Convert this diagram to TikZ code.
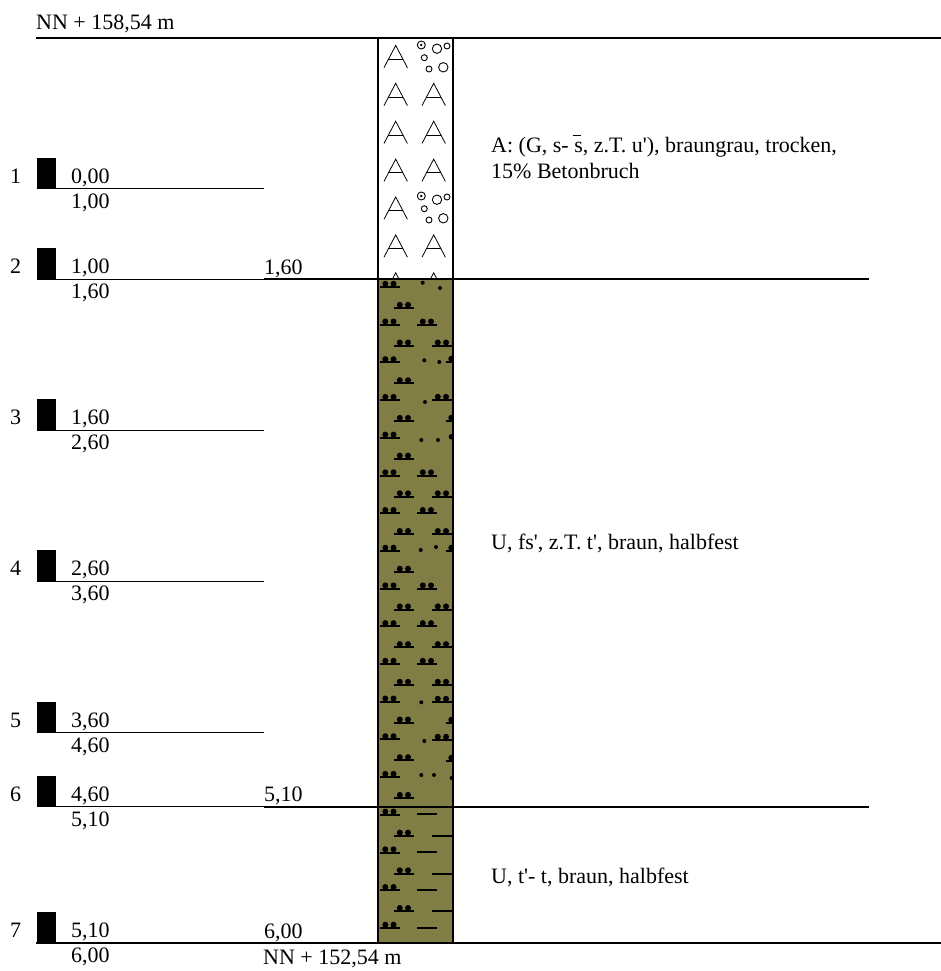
\documentclass[tikz,border=0pt]{standalone}
\usepackage{fontspec}
\newfontfamily\logfont{Liberation Serif}
\definecolor{loamfill}{RGB}{128,125,69}
\tikzset{
	logtext/.style={anchor=base west,inner sep=0pt,font=\logfont\fontsize{22}{26}\selectfont},
	layerline/.style={line width=2pt},
	sampleline/.style={line width=1pt},
	samplebar/.style={fill=black},
	soildot/.style={fill=black},
}
\newcommand{\siltmark}[2]{
	\fill[soildot] ({#1+5.8},{#2-3.2}) circle (3);
	\fill[soildot] ({#1+14},{#2-3.2}) circle (3);
	\draw[line width=2pt] (#1,{#2}) -- ({#1+20},{#2});
}
\newcommand{\fillmark}[2]{
	\draw[line width=.9pt] ({#1+3.3},#2) circle (4);
	\fill[soildot] ({#1+3.3},#2) circle (1.4);
	\draw[line width=.9pt] ({#1+19},{#2+3.7}) circle (4.7);
	\draw[line width=.9pt] ({#1+29},{#2+1}) circle (3);
	\draw[line width=.9pt] ({#1+6.3},{#2+12.7}) circle (3);
	\draw[line width=.9pt] ({#1+11},{#2+24}) circle (3);
	\draw[line width=.9pt] ({#1+25.3},{#2+22.3}) circle (4.7);
}
\newcommand{\amark}[2]{
	\draw[line width=.8pt] (#1,{#2}) -- ({#1+11.7},{#2-22.3}) -- ({#1+23.4},{#2});
	\draw[line width=.8pt] ({#1+4},{#2-8.6}) -- ({#1+19.4},{#2-8.6});
}
\begin{document}
\begin{tikzpicture}[x=1pt,y=-1pt]
\useasboundingbox (0,0) rectangle (941,971);
% layer fills
\fill[loamfill] (377.5,279) rectangle (452.5,943);
% fill material, top layer
\begin{scope}
\clip (377.5,38) rectangle (452.5,279);
\foreach \k in {0,...,6}
{
	\amark{384}{67.7+37.9*\k}
}
\foreach \k in {1,2,3,5,6}
{
	\amark{422}{67.7+37.9*\k}
}
\fillmark{418}{45}
\fillmark{418}{196}
\end{scope}
% silt marks
\begin{scope}
\clip (377.5,279) rectangle (452.5,943);
\foreach \k in {0,...,17}
{
	\siltmark{379.5}{287+37.7*\k}
}
\foreach \k in {0,...,16}
{
	\siltmark{394}{308+37.7*\k}
}
% right column, loam
\foreach \k in {1,5,6,8,9,10}
{
	\siltmark{417}{287+37.7*\k}
}
\foreach \k in {1,5,6,8,9,10}
{
	\siltmark{432}{308+37.7*\k}
}
\siltmark{432}{400}
\siltmark{432}{702}
\siltmark{432}{740}
\foreach \x/\y in {445.5/362,445.5/421,445.5/551,445.5/723,445.5/761}
{
	\siltmark{\x}{\y}
}
\fill[soildot] (451.5,436.7) circle (2.8);
\foreach \x/\y in {422.7/282.7,440/288,424.3/360.3,439.3/362,425/402,421.3/440,438/440,420.7/550,436/547,421.3/702.3,424.3/741,421.3/775,434/775,451.7/778}
{
	\fill[soildot] (\x,\y) circle (2);
}
% clay dashes
\foreach \y in {814,852,890,928}
{
	\draw[line width=2pt] (417,\y) -- (437.3,\y);
}
\foreach \y in {835.5,873.5,911.3}
{
	\draw[line width=2pt] (431.5,\y) -- (452,\y);
}
\end{scope}
% samples
\foreach \n/\y/\from/\to in {1/188.5/{0,00}/{1,00},2/279/{1,00}/{1,60},3/430/{1,60}/{2,60},4/581/{2,60}/{3,60},5/732.5/{3,60}/{4,60},6/806.5/{4,60}/{5,10},7/943/{5,10}/{6,00}}
{
	\fill[samplebar] (36.7,{\y-31}) rectangle (56,\y);
	\draw[sampleline] (36.7,\y) -- (264,\y);
	\node[logtext] (num\n) at (10,{\y-5.5}) {\n};
	\node[logtext] (top\n) at (71,{\y-5.5}) {\from};
	\node[logtext] (bot\n) at (71,{\y+19.5}) {\to};
}
% column and layer lines
\draw[layerline] (377.5,38) -- (377.5,943);
\draw[layerline] (452.5,38) -- (452.5,943);
\draw[layerline] (36,38) -- (941,38);
\draw[layerline] (264,279) -- (869,279);
\draw[layerline] (264,806.5) -- (869,806.5);
\draw[layerline] (36,943) -- (941,943);
\node[logtext] (depthA) at (264,274) {1,60};
\node[logtext] (depthB) at (264,801.5) {5,10};
\node[logtext] (depthC) at (264,938) {6,00};
\node[logtext] (levelTop) at (36,30) {NN + 158,54 m};
\node[logtext] (levelBot) at (263,964.5) {NN + 152,54 m};
\node[logtext] (descA) at (491,153) {A: (G, s- s, z.T. u'), braungrau, trocken,};
\node[logtext] (descAb) at (491,178) {15\% Betonbruch};
\node[logtext] (descB) at (491,549) {U, fs', z.T. t', braun, halbfest};
\node[logtext] (descC) at (491,883) {U, t'- t, braun, halbfest};
\draw[line width=1pt] (572.7,135) -- (581.3,135);
\end{tikzpicture}
\end{document}
